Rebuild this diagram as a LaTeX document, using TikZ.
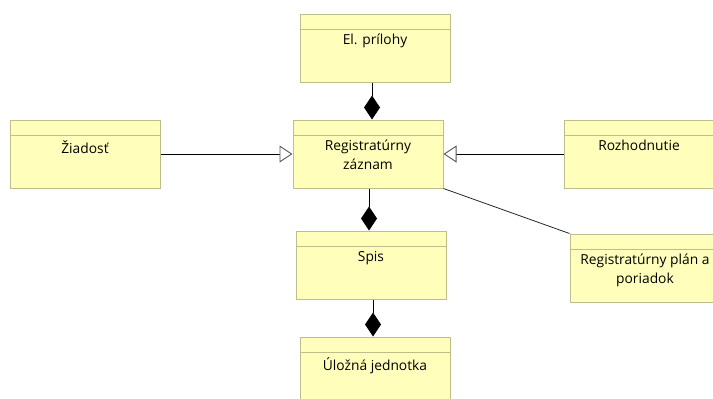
\documentclass[tikz,border=0pt]{standalone}
\usepackage{fontspec}
\setmainfont{Open Sans}
\usetikzlibrary{arrows.meta}
\definecolor{boxfill}{RGB}{255,255,187}
\definecolor{boxline}{RGB}{190,190,140}
\definecolor{tipline}{RGB}{90,90,90}
\tikzset{
  classbox/.style={draw=boxline, line width=1pt, fill=boxfill, minimum width=150pt,
    minimum height=68pt, inner sep=0pt,
    path picture={\draw[boxline, line width=1pt]
      ([yshift=-15pt]path picture bounding box.north west) --
      ([yshift=-15pt]path picture bounding box.north east);}},
  classname/.style={anchor=north, align=center, inner sep=0pt,
    font=\fontsize{13.8}{18.5}\selectfont},
  comp/.style={line width=0.9pt, -{Diamond[length=24pt,width=16pt,fill=black]}},
  inherit/.style={line width=0.9pt, -{Triangle[open,length=13pt,width=17pt,fill=white,color=tipline]}},
  assoc/.style={line width=0.8pt, draw=black!85}
}
\begin{document}
\begin{tikzpicture}[x=1pt,y=-1pt]
  \useasboundingbox[fill=white] (0,0) rectangle (713,399);

  % class boxes
  \node[classbox] (prilohy) at (375,48) {};
  \node[classbox] (zaznam)  at (368,154) {};
  \node[classbox] (ziadost) at (85,154) {};
  \node[classbox] (rozh)    at (639,154) {};
  \node[classbox] (plan)    at (645,268) {};
  \node[classbox] (spis)    at (371,265) {};
  \node[classbox] (ulozna)  at (375,371) {};

  % class names
  \node[classname] (tprilohy) at ([yshift=-20.5pt]prilohy.north) {El. prílohy};
  \node[classname] (tzaznam)  at ([yshift=-20.5pt]zaznam.north) {Registratúrny\\záznam};
  \node[classname] (tziadost) at ([yshift=-20.5pt]ziadost.north) {Žiadosť};
  \node[classname] (trozh)    at ([yshift=-20.5pt]rozh.north) {Rozhodnutie};
  \node[classname] (tplan)    at ([yshift=-20.5pt]plan.north) {Registratúrny plán a\\poriadok};
  \node[classname] (tspis)    at ([yshift=-20.5pt]spis.north) {Spis};
  \node[classname] (tulozna)  at ([yshift=-20.5pt]ulozna.north) {Úložná jednotka};

  % compositions
  \draw[comp] (372,0 |- prilohy.south) -- (372,0 |- zaznam.north);
  \draw[comp] (369,0 |- zaznam.south) -- (369,0 |- spis.north);
  \draw[comp] (373,0 |- spis.south) -- (373,0 |- ulozna.north);

  % generalizations
  \draw[inherit] (ziadost.east) -- (zaznam.west);
  \draw[inherit] (rozh.west) -- (zaznam.east);

  % association
  \draw[assoc] (zaznam.south east) -- (plan.north west);
\end{tikzpicture}
\end{document}
